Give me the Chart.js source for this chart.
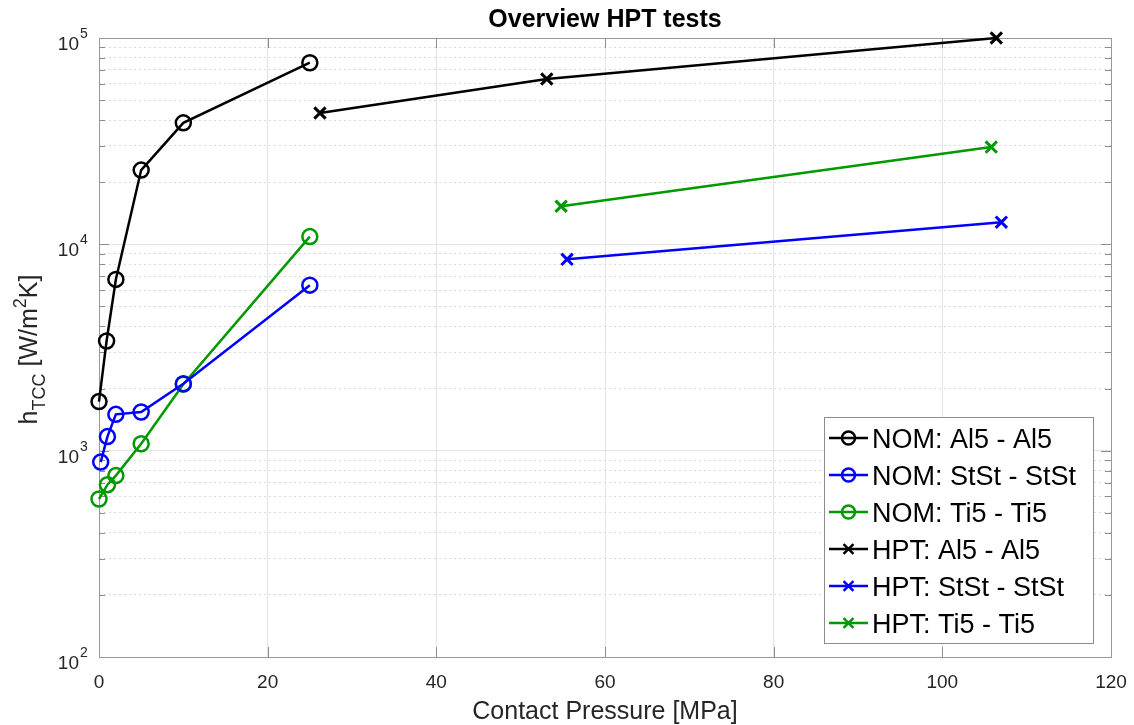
<!DOCTYPE html>
<html>
<head>
<meta charset="utf-8">
<title>Overview HPT tests</title>
<script src="https://cdn.jsdelivr.net/npm/chart.js@4.4.1/dist/chart.umd.min.js"></script>
<style>
  html, body { margin: 0; padding: 0; background: #fff; }
  #wrap { position: relative; width: 1134px; height: 725px; }
</style>
</head>
<body>
<div id="wrap"><canvas id="chart" width="1134" height="725"></canvas></div>
<script>
// axis ticks
const xTicks = [0, 20, 40, 60, 80, 100, 120];
const yTicks = [100, 1000, 10000, 100000];
const yMinorTicks = [200, 300, 400, 500, 600, 700, 800, 900,
  2000, 3000, 4000, 5000, 6000, 7000, 8000, 9000,
  20000, 30000, 40000, 50000, 60000, 70000, 80000, 90000];

// series
const seriesNames = ['NOM: Al5 - Al5', 'NOM: StSt - StSt', 'NOM: Ti5 - Ti5',
  'HPT: Al5 - Al5', 'HPT: StSt - StSt', 'HPT: Ti5 - Ti5'];
const seriesColors = ['#000000', '#0000ff', '#009900', '#000000', '#0000ff', '#009900'];
const seriesMarkers = ['circle', 'circle', 'circle', 'crossRot', 'crossRot', 'crossRot'];

// contact pressure [MPa] / h_TCC [W/m2K]
const nomAlP = [0, 0.9, 2, 5, 10, 25];
const nomAlH = [1730, 3400, 6760, 22900, 38800, 75900];
const nomStP = [0.2, 1, 2, 5, 10, 25];
const nomStH = [880, 1170, 1500, 1540, 2110, 6340];
const nomTiP = [0, 1, 2, 5, 10, 25];
const nomTiH = [583, 684, 757, 1080, 2100, 10900];
const hptAlP = [26.2, 53.1, 106.4];
const hptAlH = [43300, 63300, 100000];
const hptStP = [55.5, 107.0];
const hptStH = [8460, 12800];
const hptTiP = [54.8, 105.8];
const hptTiH = [15300, 29600];

const pressures = [nomAlP, nomStP, nomTiP, hptAlP, hptStP, hptTiP];
const values = [nomAlH, nomStH, nomTiH, hptAlH, hptStH, hptTiH];

const FONT = '"Liberation Sans", Arial, Helvetica, sans-serif';
const TEXT = '#262626';
const AXIS = '#999999';
Chart.defaults.font.family = FONT;

const datasets = seriesNames.map((name, i) => {
  const circ = seriesMarkers[i] === 'circle';
  return {
    label: name,
    data: pressures[i].map((p, j) => ({ x: p, y: values[i][j] })),
    borderColor: seriesColors[i],
    backgroundColor: 'rgba(0,0,0,0)',
    borderWidth: 2.5,
    pointStyle: seriesMarkers[i],
    pointRadius: circ ? 7.5 : 8,
    pointBorderWidth: circ ? 2.5 : 3,
    pointBorderColor: seriesColors[i],
    pointBackgroundColor: 'rgba(0,0,0,0)',
    tension: 0,
    clip: false
  };
});

// MATLAB-like extras: inside tick marks, 10^n labels, title, y label, legend box
const matlabAxes = {
  id: 'matlabAxes',
  beforeDatasetsDraw(chart) {
    const { ctx, chartArea: a, scales } = chart;
    ctx.save();
    ctx.strokeStyle = '#8c8c8c';
    ctx.lineWidth = 1;
    ctx.beginPath();
    xTicks.slice(1, -1).forEach(v => {
      const x = Math.round(scales.x.getPixelForValue(v)) + 0.5;
      ctx.moveTo(x, a.bottom); ctx.lineTo(x, a.bottom - 10);
      ctx.moveTo(x, a.top); ctx.lineTo(x, a.top + 10);
    });
    yTicks.slice(1, -1).forEach(v => {
      const y = Math.round(scales.y.getPixelForValue(v)) + 0.5;
      ctx.moveTo(a.left, y); ctx.lineTo(a.left + 10, y);
      ctx.moveTo(a.right, y); ctx.lineTo(a.right - 10, y);
    });
    yMinorTicks.forEach(v => {
      const y = Math.round(scales.y.getPixelForValue(v)) + 0.5;
      ctx.moveTo(a.left, y); ctx.lineTo(a.left + 6, y);
      ctx.moveTo(a.right, y); ctx.lineTo(a.right - 6, y);
    });
    ctx.stroke();
    ctx.restore();
  },
  afterDraw(chart) {
    const { ctx, chartArea: a, scales } = chart;
    ctx.save();

    // y tick labels 10^n
    ctx.fillStyle = TEXT;
    ctx.textBaseline = 'alphabetic';
    yTicks.forEach(v => {
      const y = scales.y.getPixelForValue(v);
      ctx.font = '19px ' + FONT;
      ctx.textAlign = 'right';
      ctx.fillText('10', a.left - 20, y + 12);
      ctx.font = '14px ' + FONT;
      ctx.textAlign = 'left';
      ctx.fillText(String(Math.round(Math.log10(v))), a.left - 19, y);
    });

    // title
    ctx.fillStyle = '#000';
    ctx.font = 'bold 25px ' + FONT;
    ctx.textAlign = 'center';
    ctx.fillText('Overview HPT tests', (a.left + a.right) / 2, 27);

    // y axis label with subscript / superscript
    const parts = [
      { t: 'h', s: 25, dy: 0 },
      { t: 'TCC', s: 18, dy: 8 },
      { t: ' [W/m', s: 25, dy: 0 },
      { t: '2', s: 18, dy: -11 },
      { t: 'K]', s: 25, dy: 0 }
    ];
    ctx.save();
    ctx.translate(37, (a.top + a.bottom) / 2 + 2);
    ctx.rotate(-Math.PI / 2);
    ctx.fillStyle = TEXT;
    ctx.textAlign = 'left';
    let total = 0;
    parts.forEach(p => { ctx.font = p.s + 'px ' + FONT; p.w = ctx.measureText(p.t).width; total += p.w; });
    let px = -total / 2;
    parts.forEach(p => { ctx.font = p.s + 'px ' + FONT; ctx.fillText(p.t, px, p.dy); px += p.w; });
    ctx.restore();

    // legend
    const box = { left: a.right - 287, top: a.bottom - 240, w: 269, h: 226 };
    ctx.fillStyle = '#fff';
    ctx.fillRect(box.left, box.top, box.w, box.h);
    ctx.strokeStyle = '#8c8c8c';
    ctx.lineWidth = 1;
    ctx.strokeRect(box.left + 0.5, box.top + 0.5, box.w, box.h);
    chart.data.datasets.forEach((ds, i) => {
      const ry = box.top + 21 + i * 37;
      const x1 = box.left + 5, x2 = box.left + 44, xm = (x1 + x2) / 2;
      ctx.strokeStyle = ds.borderColor;
      ctx.lineWidth = 2.5;
      ctx.beginPath(); ctx.moveTo(x1, ry); ctx.lineTo(x2, ry); ctx.stroke();
      const circ = ds.pointStyle === 'circle';
      ctx.fillStyle = 'rgba(0,0,0,0)';
      Chart.helpers.drawPoint(ctx, {
        pointStyle: ds.pointStyle,
        radius: circ ? 6.5 : 7,
        borderWidth: circ ? 2 : 3,
        rotation: 0
      }, xm, ry);
      ctx.fillStyle = '#000';
      ctx.font = '27px ' + FONT;
      ctx.textAlign = 'left';
      ctx.fillText(ds.label, box.left + 48, ry + 9.5);
    });

    ctx.restore();
  }
};

new Chart(document.getElementById('chart'), {
  type: 'line',
  data: { datasets },
  options: {
    responsive: false,
    animation: false,
    events: [],
    layout: { padding: { top: 38, right: 23, bottom: 0, left: 0 } },
    plugins: { legend: { display: false }, title: { display: false }, tooltip: { enabled: false } },
    scales: {
      x: {
        type: 'linear', position: 'bottom', min: 0, max: 120,
        afterBuildTicks: s => { s.ticks = xTicks.map(v => ({ value: v })); },
        afterFit: s => { s.height = 68; s.paddingLeft = 0; s.paddingRight = 0; },
        ticks: { color: TEXT, font: { size: 19 }, padding: 14, maxRotation: 0 },
        grid: { color: '#e3e3e3', lineWidth: 1, drawTicks: false },
        border: { color: AXIS, width: 1 },
        title: {
          display: true, text: 'Contact Pressure [MPa]', color: TEXT,
          font: { size: 25, lineHeight: 1 }, padding: { top: 0, bottom: 0 }
        }
      },
      xTop: {
        type: 'linear', position: 'top', min: 0, max: 120,
        afterFit: s => { s.height = 0; s.paddingLeft = 0; s.paddingRight = 0; },
        ticks: { display: false },
        grid: { display: false, drawTicks: false },
        border: { color: AXIS, width: 1 }
      },
      y: {
        type: 'logarithmic', position: 'left', min: 100, max: 100000,
        afterBuildTicks: s => { s.ticks = yTicks.map(v => ({ value: v })); },
        afterFit: s => { s.width = 99; },
        ticks: { display: false },
        grid: { color: '#e3e3e3', lineWidth: 1, drawTicks: false },
        border: { color: AXIS, width: 1 }
      },
      yMinor: {
        type: 'logarithmic', position: 'right', min: 100, max: 100000,
        afterBuildTicks: s => { s.ticks = yMinorTicks.map(v => ({ value: v })); },
        afterFit: s => { s.width = 0; },
        ticks: { display: false },
        grid: { color: '#dadada', lineWidth: 1, drawTicks: false },
        border: { color: AXIS, width: 1, dash: [2, 3] }
      }
    }
  },
  plugins: [matlabAxes]
});
</script>
</body>
</html>
